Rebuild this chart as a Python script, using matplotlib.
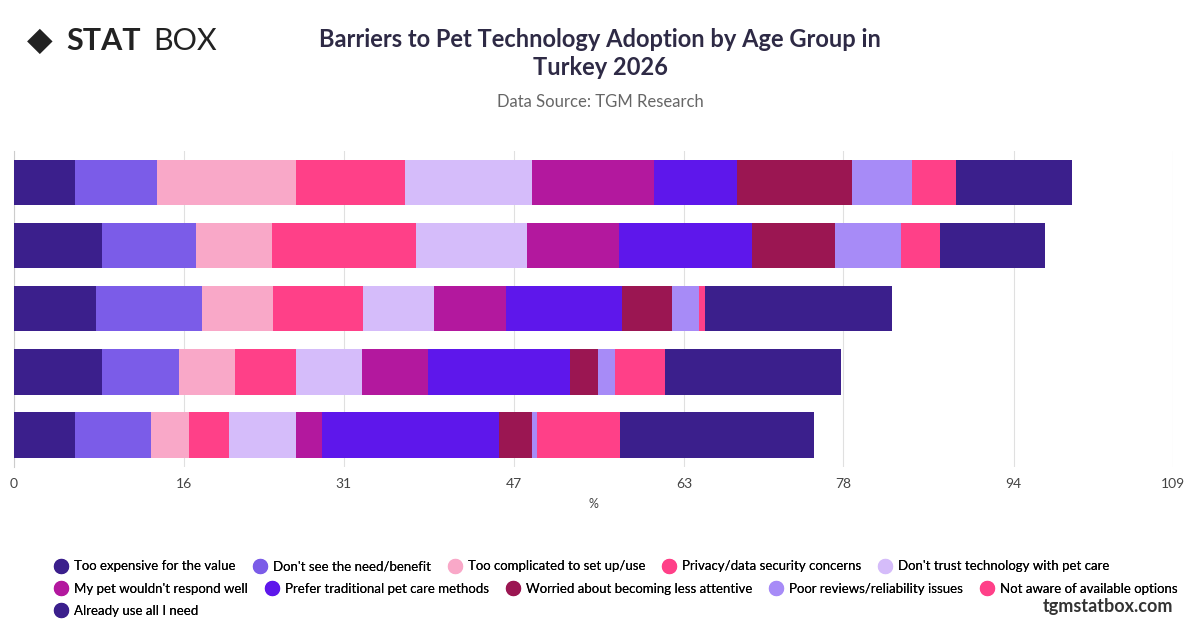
import matplotlib.pyplot as plt
from matplotlib.lines import Line2D
import numpy as np

plt.rcParams['font.family'] = ['Lato', 'DejaVu Sans']

groups = ['18-24', '25-34', '35-44', '45-54', '55+']
series = ['Too expensive for the value', "Don't see the need/benefit", 'Too complicated to set up/use',
          'Privacy/data security concerns', "Don't trust technology with pet care",
          "My pet wouldn't respond well", 'Prefer traditional pet care methods',
          'Worried about becoming less attentive', 'Poor reviews/reliability issues',
          'Not aware of available options', 'Already use all I need']
values = [
    [5.7, 7.7, 13.1, 10.3, 11.9, 11.5, 7.8, 10.8, 5.7, 4.1, 10.9],
    [8.3, 8.8, 7.2, 13.5, 10.4, 8.7, 12.5, 7.8, 6.2, 3.7, 9.9],
    [7.7, 10.0, 6.7, 8.4, 6.7, 6.8, 10.9, 4.7, 2.5, 0.6, 17.6],
    [8.3, 7.2, 5.3, 5.7, 6.2, 6.2, 13.4, 2.6, 1.6, 4.7, 16.6],
    [5.7, 7.2, 3.6, 3.7, 6.3, 2.5, 16.6, 3.1, 0.5, 7.8, 18.2],
]
colors = ['#3b1f8c', '#7b5ce8', '#f9a8c8', '#ff4088', '#d5bcfa', '#b3189e',
          '#5e17eb', '#9b1652', '#a78bf7', '#ff4088', '#3b1f8c']
ticks = [0, 16, 31, 47, 63, 78, 94, 109]

fig = plt.figure(figsize=(12, 6.28), dpi=100)
ax = fig.add_axes([0.0117, 0.257, 0.9658, 0.503])
vals = np.array(values)
y = np.arange(len(groups))
left = np.zeros(len(groups))
for i, name in enumerate(series):
    ax.barh(y, vals[:, i], left=left, height=0.72, color=colors[i], label=name, zorder=3)
    left += vals[:, i]
ax.set_ylim(len(groups) - 0.5, -0.5)
ax.set_xlim(0, 109)
ax.set_xticks(ticks)
ax.set_xticklabels([str(t) for t in ticks], fontsize=10, color='#444444')
ax.set_yticks([])
ax.grid(axis='x', color='#e0e0e0', zorder=0)
for s in ['top', 'right', 'bottom']:
    ax.spines[s].set_visible(False)
ax.spines['left'].set_color('#cccccc')
ax.tick_params(axis='x', length=0, pad=8)
ax.set_xlabel('%', fontsize=9, color='#444444', labelpad=6)

fig.text(0.5, 0.915, 'Barriers to Pet Technology Adoption by Age Group in\nTurkey 2026',
         ha='center', va='center', fontsize=17, fontweight='bold', color='#2e2a45', linespacing=1.3)
fig.text(0.5, 0.838, 'Data Source: TGM Research', ha='center', va='center', fontsize=12, color='#666666')
fig.text(0.055, 0.935, 'STAT', ha='left', va='center', fontsize=22, fontweight='bold', color='#222222')
fig.text(0.128, 0.935, 'BOX', ha='left', va='center', fontsize=22, color='#222222')
fig.text(0.033, 0.935, '◆', ha='center', va='center', fontsize=24, color='#222222')
fig.text(0.978, 0.035, 'tgmstatbox.com', ha='right', va='center', fontsize=13, fontweight='bold', color='#333333')

# legend laid out row by row, like the reference
rows = [series[0:5], series[5:10], series[10:]]
row_y = [0.098, 0.062, 0.027]
k = 0
for names, yy in zip(rows, row_y):
    handles = [Line2D([], [], marker='o', ls='', markersize=10, color=colors[k + j]) for j in range(len(names))]
    k += len(names)
    leg = fig.legend(handles, names, loc='center left', bbox_to_anchor=(0.04, yy), ncol=len(names),
                     frameon=False, fontsize=9.5, handlelength=1.0,
                     columnspacing=1.3, handletextpad=0.5, borderpad=0)
    fig.add_artist(leg)
fig.savefig('out.png', dpi=100)
